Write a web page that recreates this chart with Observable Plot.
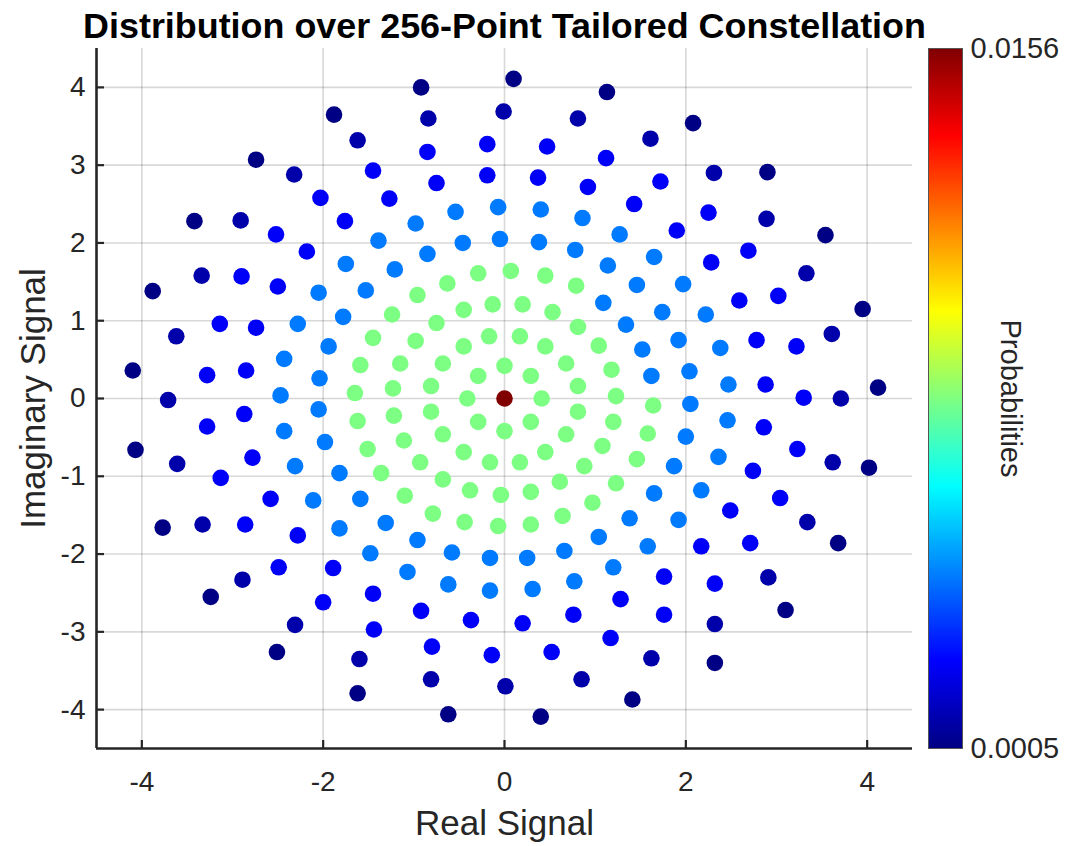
<!DOCTYPE html>
<html>
<head>
<meta charset="utf-8">
<script src="https://cdn.jsdelivr.net/npm/d3@7"></script>
<script src="https://cdn.jsdelivr.net/npm/@observablehq/plot@0.6"></script>
<style>
  html, body { margin: 0; padding: 0; background: #fff; }
  #chart { position: relative; width: 1067px; height: 846px; overflow: hidden; }
</style>
</head>
<body>
<div id="chart"></div>
<script>
// ---------- text ----------
const titleText = "Distribution over 256-Point Tailored Constellation";
const xLabel = "Real Signal";
const yLabel = "Imaginary Signal";
const colorLabel = "Probabilities";

// ---------- axes ----------
const xDomain = [-4.5, 4.5];
const yDomain = [-4.5, 4.5];
const xTicks = [-4, -2, 0, 2, 4];
const yTicks = [-4, -3, -2, -1, 0, 1, 2, 3, 4];
const probRange = [0.0005, 0.0156];
const probTicks = [0.0005, 0.0156];

// jet colormap stops (fraction of the colorbar range) and colours
const jetStops = [0, 1 / 8, 3 / 8, 5 / 8, 7 / 8, 1];
const jetColors = ["#000084", "#0000ff", "#00ffff", "#ffff00", "#ff0000", "#800000"];

// ---------- constellation points ----------
const realSignal = [
  // centre
  0,
  // ring 1
  0, 0.29, 0.41, 0.29, 0, -0.29, -0.41, -0.29,
  // ring 2
  -0.17, 0.17, 0.45, 0.68, 0.81, 0.81, 0.68, 0.45, 0.17, -0.16, -0.45, -0.68, -0.81, -0.81, -0.68, -0.45,
  // ring 3
  -0.13, 0.20, 0.53, 0.81, 1.04, 1.18, 1.23, 1.20, 1.08, 0.88, 0.61, 0.29, -0.04, -0.38, -0.68, -0.93,
  -1.11, -1.22, -1.23, -1.15, -0.98, -0.75, -0.45,
  // ring 4
  0.07, 0.45, 0.79, 1.09, 1.34, 1.52, 1.62, 1.64, 1.58, 1.46, 1.23, 0.97, 0.64, 0.29, -0.07, -0.44,
  -0.79, -1.10, -1.36, -1.51, -1.62, -1.65, -1.59, -1.45, -1.24, -0.96, -0.63, -0.29,
  // ring 5
  -0.05, 0.38, 0.78, 1.14, 1.46, 1.74, 1.92, 2.04, 2.05, 2.00, 1.87, 1.65, 1.38, 1.04, 0.66, 0.25,
  -0.16, -0.58, -0.96, -1.31, -1.59, -1.82, -1.98, -2.05, -2.04, -1.94, -1.78, -1.53, -1.21, -0.85, -0.46,
  // ring 6
  -0.07, 0.40, 0.86, 1.27, 1.65, 1.97, 2.22, 2.38, 2.47, 2.46, 2.36, 2.17, 1.92, 1.58, 1.20, 0.77,
  0.31, -0.16, -0.62, -1.07, -1.48, -1.82, -2.11, -2.31, -2.43, -2.47, -2.43, -2.28, -2.05, -1.75, -1.39,
  -0.98, -0.54,
  // ring 7
  -0.19, 0.37, 0.92, 1.43, 1.90, 2.28, 2.59, 2.78, 2.88, 2.86, 2.74, 2.49, 2.17, 1.76, 1.28, 0.76,
  0.20, -0.37, -0.92, -1.45, -1.89, -2.28, -2.58, -2.78, -2.87, -2.85, -2.74, -2.50, -2.18, -1.76, -1.27,
  -0.75,
  // ring 8
  -0.19, 0.47, 1.12, 1.72, 2.25, 2.69, 3.02, 3.22, 3.30, 3.23, 3.04, 2.71, 2.32, 1.76, 1.17, 0.52,
  -0.14, -0.80, -1.44, -2.00, -2.49, -2.86, -3.13, -3.28, -3.28, -3.14, -2.90, -2.52, -2.03, -1.45, -0.85,
  // ring 9
  -0.01, 0.81, 1.61, 2.31, 2.89, 3.33, 3.61, 3.71, 3.62, 3.34, 2.91, 2.32, 1.62, 0.85, 0.01, -0.81,
  -1.60, -2.31, -2.89, -3.33, -3.61, -3.71, -3.62, -3.34, -2.91, -2.32, -1.62, -0.84,
  // ring 10
  0.10, 1.13, 2.08, 2.90, 3.54, 3.95, 4.12, 4.02, 3.68, 3.10, 2.32, 1.41, 0.40, -0.62, -1.62, -2.51,
  -3.24, -3.77, -4.07, -4.10, -3.88, -3.42, -2.74, -1.88, -0.92
];

const imagSignal = [
  // centre
  0,
  // ring 1
  0.42, 0.29, 0, -0.30, -0.42, -0.30, 0, 0.29,
  // ring 2
  0.80, 0.80, 0.67, 0.45, 0.16, -0.17, -0.46, -0.69, -0.82, -0.82, -0.69, -0.46, -0.17, 0.16, 0.45, 0.67,
  // ring 3
  1.21, 1.21, 1.11, 0.92, 0.68, 0.37, 0.03, -0.30, -0.61, -0.87, -1.07, -1.20, -1.24, -1.18, -1.04, -0.82,
  -0.54, -0.22, 0.13, 0.45, 0.74, 0.97, 1.14,
  // ring 4
  1.64, 1.58, 1.45, 1.23, 0.95, 0.63, 0.29, -0.09, -0.45, -0.78, -1.09, -1.34, -1.51, -1.62, -1.64, -1.59,
  -1.48, -1.25, -0.96, -0.65, -0.29, 0.07, 0.43, 0.78, 1.08, 1.33, 1.48, 1.61,
  // ring 5
  2.05, 2.01, 1.91, 1.71, 1.46, 1.11, 0.75, 0.35, -0.07, -0.49, -0.87, -1.22, -1.54, -1.78, -1.96, -2.05,
  -2.05, -1.98, -1.82, -1.60, -1.29, -0.96, -0.56, -0.14, 0.26, 0.67, 1.05, 1.39, 1.66, 1.86, 2.00,
  // ring 6
  2.46, 2.43, 2.32, 2.11, 1.82, 1.47, 1.08, 0.65, 0.18, -0.28, -0.75, -1.18, -1.56, -1.90, -2.17, -2.35,
  -2.45, -2.47, -2.39, -2.23, -1.99, -1.67, -1.31, -0.87, -0.42, 0.04, 0.51, 0.96, 1.36, 1.73, 2.03,
  2.25, 2.40,
  // ring 7
  2.87, 2.84, 2.72, 2.50, 2.16, 1.75, 1.26, 0.75, 0.18, -0.37, -0.93, -1.44, -1.90, -2.29, -2.58, -2.78,
  -2.89, -2.85, -2.73, -2.51, -2.18, -1.76, -1.29, -0.76, -0.20, 0.36, 0.91, 1.44, 1.89, 2.28, 2.57,
  2.77,
  // ring 8
  3.27, 3.24, 3.09, 2.79, 2.39, 1.90, 1.32, 0.67, 0.01, -0.65, -1.28, -1.86, -2.38, -2.78, -3.08, -3.26,
  -3.30, -3.19, -2.97, -2.62, -2.17, -1.62, -1.02, -0.36, 0.30, 0.96, 1.57, 2.11, 2.58, 2.93, 3.17,
  // ring 9
  3.69, 3.60, 3.34, 2.90, 2.31, 1.61, 0.83, 0.00, -0.82, -1.59, -2.30, -2.90, -3.34, -3.61, -3.70, -3.61,
  -3.35, -2.91, -2.33, -1.62, -0.84, -0.02, 0.80, 1.58, 2.29, 2.88, 3.32, 3.60,
  // ring 10
  4.11, 3.94, 3.54, 2.91, 2.10, 1.15, 0.14, -0.89, -1.86, -2.72, -3.40, -3.87, -4.09, -4.06, -3.79, -3.26,
  -2.55, -1.66, -0.66, 0.36, 1.38, 2.28, 3.07, 3.65, 4.00
];

const probability = [
  // centre
  0.0156,
  // ring 1
  0.0080, 0.0080, 0.0080, 0.0080, 0.0080, 0.0080, 0.0080, 0.0080,
  // ring 2
  0.0080, 0.0080, 0.0080, 0.0080, 0.0080, 0.0080, 0.0080, 0.0080,
  0.0080, 0.0080, 0.0080, 0.0080, 0.0080, 0.0080, 0.0080, 0.0080,
  // ring 3
  0.0080, 0.0080, 0.0080, 0.0080, 0.0080, 0.0080, 0.0080, 0.0080,
  0.0080, 0.0080, 0.0080, 0.0080, 0.0080, 0.0080, 0.0080, 0.0080,
  0.0080, 0.0080, 0.0080, 0.0080, 0.0080, 0.0080, 0.0080,
  // ring 4
  0.0080, 0.0080, 0.0080, 0.0042, 0.0042, 0.0042, 0.0042, 0.0080,
  0.0080, 0.0080, 0.0080, 0.0080, 0.0080, 0.0080, 0.0080, 0.0080,
  0.0080, 0.0080, 0.0080, 0.0080, 0.0080, 0.0080, 0.0080, 0.0080,
  0.0080, 0.0080, 0.0080, 0.0080,
  // ring 5
  0.0042, 0.0042, 0.0042, 0.0042, 0.0042, 0.0042, 0.0042, 0.0042,
  0.0042, 0.0042, 0.0042, 0.0042, 0.0042, 0.0042, 0.0042, 0.0042,
  0.0042, 0.0042, 0.0042, 0.0042, 0.0042, 0.0042, 0.0042, 0.0042,
  0.0042, 0.0042, 0.0042, 0.0042, 0.0042, 0.0042, 0.0042,
  // ring 6
  0.0042, 0.0042, 0.0042, 0.0042, 0.0042, 0.0042, 0.0042, 0.0042,
  0.0042, 0.0042, 0.0042, 0.0042, 0.0042, 0.0042, 0.0042, 0.0042,
  0.0042, 0.0042, 0.0042, 0.0042, 0.0042, 0.0042, 0.0042, 0.0042,
  0.0042, 0.0042, 0.0042, 0.0042, 0.0042, 0.0042, 0.0042, 0.0042,
  0.0042,
  // ring 7
  0.0023, 0.0023, 0.0023, 0.0023, 0.0023, 0.0023, 0.0023, 0.0023,
  0.0023, 0.0023, 0.0023, 0.0023, 0.0023, 0.0023, 0.0023, 0.0023,
  0.0023, 0.0023, 0.0023, 0.0023, 0.0023, 0.0023, 0.0023, 0.0023,
  0.0023, 0.0023, 0.0023, 0.0023, 0.0023, 0.0023, 0.0023, 0.0023,
  // ring 8
  0.0023, 0.0023, 0.0023, 0.0023, 0.0023, 0.0023, 0.0023, 0.0023,
  0.0023, 0.0023, 0.0023, 0.0023, 0.0023, 0.0023, 0.0023, 0.0023,
  0.0023, 0.0023, 0.0023, 0.0023, 0.0023, 0.0023, 0.0023, 0.0023,
  0.0023, 0.0023, 0.0023, 0.0023, 0.0023, 0.0023, 0.0023,
  // ring 9
  0.0011, 0.0011, 0.0011, 0.0011, 0.0011, 0.0011, 0.0011, 0.0011,
  0.0011, 0.0011, 0.0011, 0.0011, 0.0011, 0.0011, 0.0011, 0.0011,
  0.0011, 0.0011, 0.0011, 0.0011, 0.0011, 0.0011, 0.0011, 0.0011,
  0.0011, 0.0011, 0.0011, 0.0011,
  // ring 10
  0.0005, 0.0005, 0.0005, 0.0005, 0.0005, 0.0005, 0.0005, 0.0005,
  0.0005, 0.0005, 0.0005, 0.0005, 0.0005, 0.0005, 0.0005, 0.0005,
  0.0005, 0.0005, 0.0005, 0.0005, 0.0005, 0.0005, 0.0005, 0.0005,
  0.0005
];

// ---------- build ----------
const points = realSignal.map((x, i) => ({x, y: imagSignal[i], p: probability[i]}));
const colorDomain = jetStops.map(t => probRange[0] + t * (probRange[1] - probRange[0]));
const colorScale = {type: "linear", domain: colorDomain, range: jetColors, interpolate: "rgb"};
const font = '"Liberation Sans", Arial, Helvetica, sans-serif';
const ink = "#262626";
const plainNumber = d => String(d);

const main = Plot.plot({
  width: 1067,
  height: 846,
  marginLeft: 96,
  marginRight: 155,
  marginTop: 48,
  marginBottom: 98,
  style: {fontFamily: font, fontSize: "28px", color: ink, background: "transparent", overflow: "visible"},
  x: {domain: xDomain},
  y: {domain: yDomain},
  color: colorScale,
  marks: [
    Plot.gridX(xTicks, {stroke: ink, strokeOpacity: 0.18, strokeWidth: 1.6}),
    Plot.gridY(yTicks, {stroke: ink, strokeOpacity: 0.18, strokeWidth: 1.6}),
    Plot.dot(points, {x: "x", y: "y", r: 8.3, fill: "p"}),
    Plot.ruleX([xDomain[0]], {stroke: ink, strokeWidth: 2.6}),
    Plot.ruleY([yDomain[0]], {stroke: ink, strokeWidth: 2.6}),
    Plot.axisX(xTicks, {tickSize: -8, tickPadding: 31, strokeWidth: 2.2, label: null, fontSize: 28, tickFormat: plainNumber}),
    Plot.axisY(yTicks, {tickSize: -8, tickPadding: 19, strokeWidth: 2.2, label: null, fontSize: 28, tickFormat: plainNumber}),
    Plot.text([xLabel], {text: d => d, frameAnchor: "bottom", textAnchor: "middle", dy: 86, lineAnchor: "bottom", fontSize: 35, fill: ink}),
    Plot.text([yLabel], {text: d => d, frameAnchor: "left", textAnchor: "middle", dx: -76, rotate: -90, lineAnchor: "top", fontSize: 35, fill: ink}),
    Plot.text([titleText], {text: d => d, frameAnchor: "top", textAnchor: "middle", dy: -11, lineAnchor: "bottom", fontSize: 35.9, fontWeight: "bold", fill: "#000"})
  ]
});

// colorbar
const nSlices = 350;
const span = probRange[1] - probRange[0];
const slices = d3.range(nSlices).map(i => ({
  y1: probRange[0] + (i / nSlices) * span,
  y2: probRange[0] + Math.min(1, (i + 1.5) / nSlices) * span,
  v: probRange[0] + ((i + 0.5) / nSlices) * span
}));

const bar = Plot.plot({
  width: 167,
  height: 846,
  marginLeft: 28,
  marginRight: 105,
  marginTop: 48,
  marginBottom: 98,
  style: {fontFamily: font, fontSize: "29px", color: ink, background: "transparent", overflow: "visible"},
  x: {domain: [0, 1], axis: null},
  y: {domain: probRange, axis: null},
  color: colorScale,
  marks: [
    Plot.rect(slices, {x1: 0, x2: 1, y1: "y1", y2: "y2", fill: "v", shapeRendering: "crispEdges"}),
    Plot.frame({stroke: "#555", strokeWidth: 1}),
    Plot.axisY(probTicks, {anchor: "right", tickSize: 0, tickPadding: 8, tickFormat: d3.format(".4f"), fontSize: 29, label: null}),
    Plot.text([colorLabel], {text: d => d, frameAnchor: "right", textAnchor: "middle", dx: 48, rotate: 90, lineAnchor: "middle", fontSize: 29, fill: ink})
  ]
});

const chart = document.getElementById("chart");
main.style.position = "absolute";
main.style.left = "0px";
main.style.top = "0px";
bar.style.position = "absolute";
bar.style.left = "900px";
bar.style.top = "0px";
chart.appendChild(main);
chart.appendChild(bar);
</script>
</body>
</html>
